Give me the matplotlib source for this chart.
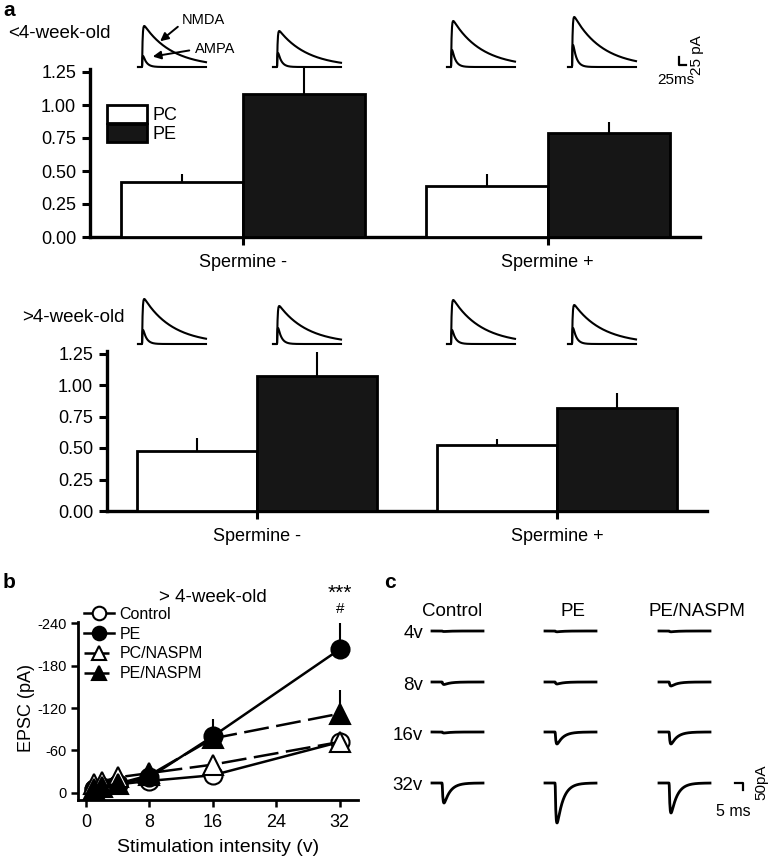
import numpy as np
import matplotlib
matplotlib.use('Agg')
import matplotlib.pyplot as plt
from matplotlib.patches import Patch

plt.rcParams['font.family'] = ['Liberation Sans', 'DejaVu Sans']
plt.rcParams['axes.unicode_minus'] = False

# ---- panel a: NMDA/AMPA ratio bars ----
groups = ['Spermine -', 'Spermine +']
bar_ticks = [0.00, 0.25, 0.50, 0.75, 1.00, 1.25]
young_pc = [0.42, 0.39]
young_pc_err = [0.06, 0.09]
young_pe = [1.08, 0.79]
young_pe_err = [0.20, 0.08]
old_pc = [0.48, 0.52]
old_pc_err = [0.10, 0.05]
old_pe = [1.07, 0.82]
old_pe_err = [0.19, 0.12]

# example traces above the bars (peak heights of the slow and fast component)
young_slow_amp = [41, 36, 46, 50]
young_fast_amp = [11, 14, 17, 22]
old_slow_amp = [45, 38, 44, 39]
old_fast_amp = [14, 16, 14, 16]

# ---- panel b: EPSC vs stimulation intensity ----
volts = [1, 2, 4, 8, 16, 32]
epsc_control = [-5, -8, -12, -17, -25, -72]
epsc_pe = [-5, -7, -12, -22, -80, -203]
epsc_pc_naspm = [-12, -16, -22, -28, -40, -72]
epsc_pe_naspm = [-6, -9, -13, -25, -77, -112]
err_control = [1, 1, 2, 2, 3, 12]
err_pe = [1, 1, 2, 3, 25, 37]
err_pc_naspm = [1, 1, 2, 2, 4, 6]
err_pe_naspm = [1, 1, 2, 3, 5, 33]

# ---- panel c: example traces ----
trace_cols = ['Control', 'PE', 'PE/NASPM']
trace_rows = ['4v', '8v', '16v', '32v']
trace_amp = [[0.5, 0.8, 0.8],
             [2.5, 2.0, 4.0],
             [1.0, 12.0, 12.0],
             [20.0, 40.0, 30.0]]

W, H = 770, 856
fig = plt.figure(figsize=(W / 100, H / 100), dpi=100)


def frac(x0, y0, x1, y1):
    # pixel box -> figure fraction rect
    return [x0 / W, 1 - y1 / H, (x1 - x0) / W, (y1 - y0) / H]


def kernel(t, tr, td):
    tt = np.clip(t, 0, None)
    k = np.where(t > 0, np.exp(-tt / td) - np.exp(-tt / tr), 0)
    return k / k.max()


# overlay in pixel coordinates for traces, labels and scale bars
ov = fig.add_axes([0, 0, 1, 1], zorder=5)
ov.set_xlim(0, W)
ov.set_ylim(H, 0)
ov.axis('off')
ov.patch.set_alpha(0)


def bar_panel(rect, pc, pc_err, pe, pe_err, legend=False):
    ax = fig.add_axes(rect)
    ax.patch.set_alpha(0)
    x = np.arange(len(groups))
    ax.bar(x - 0.2, pc, 0.4, color='white', edgecolor='black', linewidth=2.0, zorder=3)
    ax.bar(x + 0.2, pe, 0.4, color='#161616', edgecolor='black', linewidth=2.0, zorder=3)
    ax.errorbar(x - 0.2, pc, yerr=[np.zeros(2), pc_err], fmt='none', ecolor='black',
                elinewidth=1.5, capsize=0, zorder=2)
    ax.errorbar(x + 0.2, pe, yerr=[np.zeros(2), pe_err], fmt='none', ecolor='black',
                elinewidth=1.5, capsize=0, zorder=2)
    ax.set_xlim(-0.5, 1.5)
    ax.set_ylim(0, 1.3)
    ax.set_yticks(bar_ticks)
    ax.set_yticklabels(['%.2f' % v for v in bar_ticks])
    ax.set_xticks(x)
    ax.set_xticklabels(groups)
    for s in ['top', 'right']:
        ax.spines[s].set_visible(False)
    for s in ['left', 'bottom']:
        ax.spines[s].set_linewidth(2.4)
    ax.spines['left'].set_bounds(0, 1.27)
    ax.tick_params(axis='both', direction='out', length=6, width=2.2, labelsize=13)
    ax.tick_params(axis='x', pad=6)
    ax.tick_params(axis='y', pad=4)
    if legend:
        h = [Patch(facecolor='white', edgecolor='black', linewidth=2),
             Patch(facecolor='#161616', edgecolor='black', linewidth=2)]
        ax.legend(h, ['PC', 'PE'], loc='upper left', bbox_to_anchor=(0.028, 0.77),
                  frameon=False, fontsize=13, handlelength=2.2, handleheight=1.15,
                  labelspacing=0.0, handletextpad=0.3, borderpad=0, borderaxespad=0)
    return ax


bar_panel(frac(90, 237 - 1.3 * 132, 700, 237), young_pc, young_pc_err, young_pe, young_pe_err, legend=True)
bar_panel(frac(107, 511 - 1.3 * 126, 707, 511), old_pc, old_pc_err, old_pe, old_pe_err)

# traces above bars
t = np.linspace(0, 1, 300)
trace_x = [138, 273, 447, 568]
for base_y, slow, fast in [(67, young_slow_amp, young_fast_amp), (344, old_slow_amp, old_fast_amp)]:
    for x0, a_s, a_f in zip(trace_x, slow, fast):
        xs = x0 + t * 68
        ov.plot(xs, base_y - a_s * kernel(t - 0.06, 0.008, 0.42), color='black', lw=1.5)
        ov.plot(xs, base_y - a_f * kernel(t - 0.06, 0.006, 0.05), color='black', lw=1.5)

ov.annotate('', xy=(158, 43), xytext=(180, 25),
            arrowprops=dict(arrowstyle='-|>', color='black', lw=1.4, mutation_scale=12))
ov.annotate('', xy=(150, 57), xytext=(192, 50),
            arrowprops=dict(arrowstyle='-|>', color='black', lw=1.4, mutation_scale=12))
ov.text(182, 20, 'NMDA', fontsize=10.5, va='center', ha='left')
ov.text(195, 49, 'AMPA', fontsize=10.5, va='center', ha='left')

# scale bar top
ov.plot([679, 679, 686], [57, 65, 65], color='black', lw=1.6)
ov.text(697, 55, '25 pA', fontsize=11, rotation=90, va='center', ha='center')
ov.text(676, 80, '25ms', fontsize=11, va='center', ha='center')

ov.text(8, 33, '<4-week-old', fontsize=13.5, va='center', ha='left')
ov.text(22, 318, '>4-week-old', fontsize=13.5, va='center', ha='left')
ov.text(3, 10, 'a', fontsize=15, fontweight='bold', va='center', ha='left')
ov.text(3, 582, 'b', fontsize=15, fontweight='bold', va='center', ha='left')
ov.text(384, 583, 'c', fontsize=15, fontweight='bold', va='center', ha='left')

# ---- panel b ----
axb = fig.add_axes(frac(78, 616, 358, 800))
axb.patch.set_alpha(0)
v = np.array(volts)
z = np.zeros(len(volts))
axb.errorbar(v, epsc_control, yerr=[z, err_control], fmt='none', ecolor='black', elinewidth=1.5, capsize=0)
axb.errorbar(v, epsc_pe, yerr=[err_pe, z], fmt='none', ecolor='black', elinewidth=1.5, capsize=0)
axb.errorbar(v, epsc_pc_naspm, yerr=[z, err_pc_naspm], fmt='none', ecolor='black', elinewidth=1.5, capsize=0)
axb.errorbar(v, epsc_pe_naspm, yerr=[err_pe_naspm, z], fmt='none', ecolor='black', elinewidth=1.5, capsize=0)
axb.plot(v, epsc_control, '-o', color='black', mfc='white', mec='black', ms=13, mew=1.5, lw=1.8,
         label='Control')
axb.plot(v, epsc_pe, '-o', color='black', mfc='black', mec='black', ms=13, mew=1.5, lw=1.8, label='PE')
axb.plot(v, epsc_pc_naspm, '^', ls=(0, (10, 3)), color='black', mfc='white', mec='black', ms=14, mew=1.5,
         lw=1.8, label='PC/NASPM')
axb.plot(v, epsc_pe_naspm, '^', ls=(0, (10, 3)), color='black', mfc='black', mec='black', ms=14, mew=1.5,
         lw=1.8, label='PE/NASPM')
axb.set_xlim(-1, 34.3)
axb.set_ylim(10, -250)
axb.set_xticks([0, 8, 16, 24, 32])
axb.set_yticks([0, -60, -120, -180, -240])
for s in ['top', 'right']:
    axb.spines[s].set_visible(False)
for s in ['left', 'bottom']:
    axb.spines[s].set_linewidth(2.0)
axb.spines['left'].set_bounds(10, -242)
axb.tick_params(axis='both', direction='out', length=5, width=1.8)
axb.tick_params(axis='x', labelsize=13, pad=5)
axb.tick_params(axis='y', labelsize=10.5, pad=3)
axb.set_xlabel('Stimulation intensity (v)', fontsize=14, labelpad=6)
axb.set_ylabel('EPSC (pA)', fontsize=13, labelpad=2)
axb.legend(loc='upper left', bbox_to_anchor=(0.02, 1.05), frameon=False, fontsize=11.5,
           handlelength=1.9, markerscale=0.75, labelspacing=0.3, handletextpad=0.35,
           borderpad=0, borderaxespad=0)
axb.text(32, -268, '***', fontsize=15, ha='center', va='bottom', clip_on=False)
axb.text(32, -250, '#', fontsize=11, ha='center', va='bottom', clip_on=False)
ov.text(213, 598, '> 4-week-old', fontsize=13.5, ha='center', va='center')

# ---- panel c ----
col_x = [432, 545, 659]
row_y = [631, 682, 732, 783]
col_label_x = [452, 573, 697]
for lx, name in zip(col_label_x, trace_cols):
    ov.text(lx, 611, name, fontsize=13.5, ha='center', va='center')
tc = np.linspace(0, 1, 200)
for ry, rname, amps in zip(row_y, trace_rows, trace_amp):
    ov.text(423, ry + 3, rname, fontsize=13.5, ha='right', va='center')
    for cx, a in zip(col_x, amps):
        ov.plot(cx + tc * 51, ry + a * kernel(tc - 0.2, 0.015, 0.12), color='black', lw=2.0)

ov.plot([735, 743, 743], [783, 783, 790], color='black', lw=1.6)
ov.text(761, 782, '50pA', fontsize=11, rotation=90, ha='center', va='center')
ov.text(733, 812, '5 ms', fontsize=11.5, ha='center', va='center')

fig.savefig('out.png', dpi=100)
